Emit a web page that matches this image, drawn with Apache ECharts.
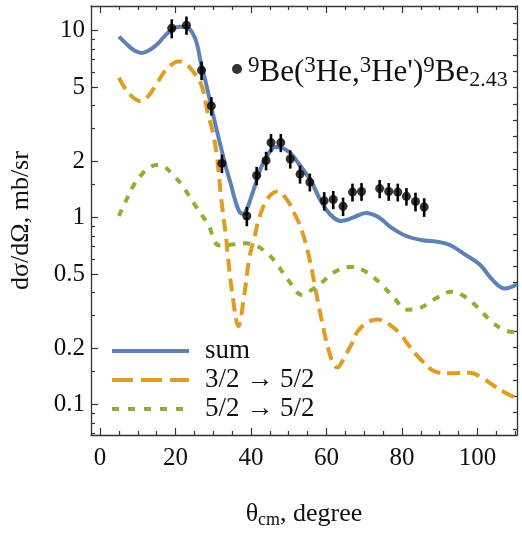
<!DOCTYPE html>
<html><head><meta charset="utf-8">
<script src="https://cdn.jsdelivr.net/npm/echarts@6/dist/echarts.min.js"></script>
<style>html,body{margin:0;padding:0;background:#fff}#c{width:522px;height:534px}</style>
</head><body><div id="c"></div>
<script>
// ---- data ----
const sumTheta  = [5, 7, 9, 11, 13, 15, 17, 19, 21, 22.5, 25.1, 26.8, 28.2, 29.9, 31, 32.1, 33.4, 34.7, 35.8, 36.9, 37.8, 38.8, 40, 40.9, 42.5, 44.4, 46.6, 48.5, 50.6, 53, 55.9, 58.5, 61, 63.8, 67, 70.5, 74, 77, 81, 85, 90, 93, 97, 100.7, 104, 107.3, 110.5];
const sumValues = [9.3, 8.5, 7.85, 7.6, 7.85, 8.4, 9.3, 10.1, 10.5, 10.5, 9.2, 6.6, 5.1, 3.6, 2.9, 2.35, 1.85, 1.5, 1.24, 1.08, 1.05, 1.1, 1.28, 1.45, 1.82, 2.16, 2.39, 2.35, 2.2, 1.9, 1.57, 1.23, 1.04, 0.96, 1.0, 1.06, 1.0, 0.89, 0.80, 0.76, 0.74, 0.71, 0.63, 0.56, 0.465, 0.418, 0.44];

const orTheta  = [5, 7, 9, 10.6, 12.5, 15, 17.5, 19.5, 20.7, 22.5, 24.5, 26.8, 28.6, 30, 31, 32.1, 33.4, 33.9, 35, 36.7, 38, 39.6, 40.9, 42.2, 44.5, 47, 49.5, 51.5, 53.2, 55.4, 58, 61.1, 62.9, 64.5, 66.4, 69, 73.5, 76.5, 79.6, 82, 84.9, 89.3, 93, 98, 101, 104.2, 107, 110.5];
const orValues = [5.6, 4.8, 4.35, 4.2, 4.4, 5.2, 6.2, 6.7, 6.85, 6.7, 6.1, 5.15, 3.6, 2.8, 2.1, 1.27, 0.78, 0.615, 0.4, 0.263, 0.36, 0.615, 0.78, 1.0, 1.27, 1.38, 1.25, 1.05, 0.885, 0.615, 0.335, 0.18, 0.158, 0.175, 0.206, 0.257, 0.285, 0.27, 0.238, 0.205, 0.175, 0.149, 0.147, 0.148, 0.14, 0.127, 0.117, 0.108];

const grTheta  = [5, 7, 9, 11, 13, 15, 17, 19, 21.6, 25, 28.6, 31.7, 35.6, 38.5, 41.9, 44, 46.2, 50, 53.7, 56, 58.5, 62, 66.4, 70, 74.3, 78, 81.4, 85, 89, 93.2, 96.5, 99.8, 104.2, 107.8, 110.5];
const grValues = [1.02, 1.25, 1.5, 1.7, 1.85, 1.91, 1.87, 1.72, 1.5, 1.18, 0.92, 0.71, 0.72, 0.73, 0.70, 0.65, 0.59, 0.46, 0.386, 0.41, 0.445, 0.51, 0.545, 0.52, 0.445, 0.37, 0.322, 0.33, 0.37, 0.402, 0.38, 0.335, 0.273, 0.248, 0.244];

const expTheta  = [19.0, 22.9, 26.9, 29.5, 32.3, 38.9, 41.5, 44.0, 45.3, 47.9, 50.4, 53.0, 55.6, 59.4, 61.8, 64.4, 66.9, 69.3, 74.1, 76.5, 78.9, 81.2, 83.6, 85.9];
const expValues = [10.3, 10.7, 6.14, 3.96, 1.95, 1.02, 1.68, 2.02, 2.52, 2.52, 2.06, 1.71, 1.55, 1.23, 1.25, 1.15, 1.37, 1.38, 1.43, 1.38, 1.37, 1.30, 1.22, 1.14];
const expErrors = [1.2, 1.2, 0.7, 0.45, 0.22, 0.12, 0.19, 0.23, 0.28, 0.28, 0.23, 0.19, 0.17, 0.14, 0.14, 0.13, 0.15, 0.15, 0.16, 0.15, 0.15, 0.14, 0.14, 0.13];

const xMajorTicks = [0, 20, 40, 60, 80, 100];
const xMinorTicks = [5, 10, 15, 25, 30, 35, 45, 50, 55, 65, 70, 75, 85, 90, 95, 105, 110];
const yMajorTicks = [0.1, 0.2, 0.5, 1, 2, 5, 10];
const yMinorTicks = [0.07, 0.08, 0.09, 0.15, 0.3, 0.4, 0.6, 0.7, 0.8, 0.9, 1.5, 3, 4, 6, 7, 8, 9];
const yRightTicksLn = [-2.6, -2.4, -2.2, -2.0, -1.8, -1.6, -1.4, -1.2, -1.0, -0.8, -0.6, -0.4, -0.2, 0, 0.2, 0.4, 0.6, 0.8, 1.0, 1.2, 1.4, 1.6, 1.8, 2.0, 2.2, 2.4];

const seriesNames = ['sum', '3/2 → 5/2', '5/2 → 5/2'];
const colors = ['#5E81B5', '#E19C24', '#8FB032'];

// ---- chart ----
const FONT = 'Liberation Serif';
const TXT = '#111';
const xMin = -2.4, xMax = 110.5;
const yLo = 0.0688, yHi = 13.55;
const L = Math.log10;
const zip = (a, b) => a.map((t, i) => [t, b[i]]);
const frameLine = { show: true, onZero: false, lineStyle: { color: '#333', width: 1.3 } };
const noLine = { show: false, onZero: false };
const tickStyle = { color: '#333', width: 1.2 };

function xAxis(pos, ticks, len, withFrame, withLabels, extra) {
  return Object.assign({
    type: 'value', min: xMin, max: xMax, position: pos,
    axisLine: withFrame ? frameLine : noLine,
    splitLine: { show: false },
    axisTick: { show: true, inside: true, length: len, customValues: ticks, lineStyle: tickStyle },
    axisLabel: withLabels ? { customValues: ticks, fontFamily: FONT, fontSize: 25, color: TXT, margin: 11 } : { show: false }
  }, extra || {});
}
function yValAxis(pos, ticks, len, withFrame, withLabels) {
  return {
    type: 'value', min: L(yLo), max: L(yHi), position: pos,
    axisLine: withFrame ? frameLine : noLine,
    splitLine: { show: false },
    axisTick: { show: true, inside: true, length: len, customValues: ticks, lineStyle: tickStyle },
    axisLabel: withLabels ? {
      customValues: ticks, fontFamily: FONT, fontSize: 25, color: TXT, margin: 6,
      formatter: v => String(+Math.pow(10, v).toPrecision(2))
    } : { show: false }
  };
}

const chart = echarts.init(document.getElementById('c'), null, { renderer: 'canvas' });
chart.setOption({
  animation: false,
  backgroundColor: '#fff',
  grid: { left: 89, right: 5, top: 6, bottom: 94, containLabel: false },
  xAxis: [
    xAxis('bottom', xMajorTicks, 7, true, true, {
      name: '{a|θ}{s|cm}{a|, degree}', nameLocation: 'middle', nameGap: 64,
      nameTextStyle: { rich: {
        a: { fontFamily: FONT, fontSize: 26, color: TXT, lineHeight: 30 },
        s: { fontFamily: FONT, fontSize: 18, color: TXT, lineHeight: 19, verticalAlign: 'bottom' }
      } }
    }),
    xAxis('bottom', xMinorTicks, 4, false, false),
    xAxis('top', xMajorTicks, 7, true, false),
    xAxis('top', xMinorTicks, 4, false, false)
  ],
  yAxis: [
    {
      type: 'log', logBase: 10, min: yLo, max: yHi, position: 'left',
      axisLine: frameLine, axisTick: { show: false }, axisLabel: { show: false }, splitLine: { show: false },
      name: 'dσ/dΩ, mb/sr', nameLocation: 'middle', nameGap: 57,
      nameTextStyle: { fontFamily: FONT, fontSize: 26, color: TXT }
    },
    yValAxis('left', yMajorTicks.map(L), 7, false, true),
    yValAxis('left', yMinorTicks.map(L), 4, false, false),
    yValAxis('right', yRightTicksLn.map(v => v / Math.LN10), 4, true, false)
  ],
  legend: [
    {
      left: 110, top: 337, orient: 'vertical', padding: 0,
      itemWidth: 77, itemHeight: 14, itemGap: 1,
      itemStyle: { opacity: 0 },
      lineStyle: { width: 4 },
      textStyle: { fontFamily: FONT, fontSize: 27, color: TXT, lineHeight: 28, padding: [0, 0, 0, 11] },
      data: [
        { name: seriesNames[0] },
        { name: seriesNames[1], lineStyle: { type: [21, 8], width: 4 } },
        { name: seriesNames[2], lineStyle: { type: [7, 9], width: 4 } }
      ]
    },
    {
      left: 232, top: 54, padding: 0, itemWidth: 10, itemHeight: 10,
      data: [{ name: 'exp', icon: 'circle' }],
      formatter: () => '{s|9}{n|Be(}{s|3}{n|He,}{s|3}{n|He\')}{s|9}{n|Be}{b|2.43}',
      textStyle: {
        padding: [7, 0, 0, 1],
        rich: {
          n: { fontFamily: FONT, fontSize: 31, color: TXT, lineHeight: 37 },
          s: { fontFamily: FONT, fontSize: 23, color: TXT, lineHeight: 25, verticalAlign: 'top' },
          b: { fontFamily: FONT, fontSize: 22, color: TXT, lineHeight: 24, verticalAlign: 'bottom' }
        }
      }
    }
  ],
  series: [
    { name: seriesNames[0], type: 'line', xAxisIndex: 0, yAxisIndex: 0, data: zip(sumTheta, sumValues),
      smooth: 0.4, symbol: 'none', z: 3, lineStyle: { color: colors[0], width: 4 }, itemStyle: { color: colors[0] } },
    { name: seriesNames[1], type: 'line', xAxisIndex: 0, yAxisIndex: 0, data: zip(orTheta, orValues),
      smooth: 0.4, symbol: 'none', z: 2, lineStyle: { color: colors[1], width: 4, type: [13, 7] }, itemStyle: { color: colors[1] } },
    { name: seriesNames[2], type: 'line', xAxisIndex: 0, yAxisIndex: 0, data: zip(grTheta, grValues),
      smooth: 0.4, symbol: 'none', z: 2, lineStyle: { color: colors[2], width: 4, type: [7, 8] }, itemStyle: { color: colors[2] } },
    { name: 'errors', type: 'custom', xAxisIndex: 0, yAxisIndex: 0, z: 5,
      data: expTheta.map((t, i) => [t, expValues[i] - expErrors[i], expValues[i] + expErrors[i]]),
      encode: { x: 0, y: [1, 2] },
      renderItem: (params, api) => {
        const p1 = api.coord([api.value(0), api.value(1)]);
        const p2 = api.coord([api.value(0), api.value(2)]);
        return { type: 'line', shape: { x1: p1[0], y1: p1[1], x2: p2[0], y2: p2[1] },
                 style: { stroke: '#000', lineWidth: 2.6 } };
      } },
    { name: 'exp', type: 'scatter', xAxisIndex: 0, yAxisIndex: 0, z: 6, data: zip(expTheta, expValues),
      symbol: 'circle', symbolSize: 9, itemStyle: { color: '#000' } }
  ]
});
</script></body></html>
